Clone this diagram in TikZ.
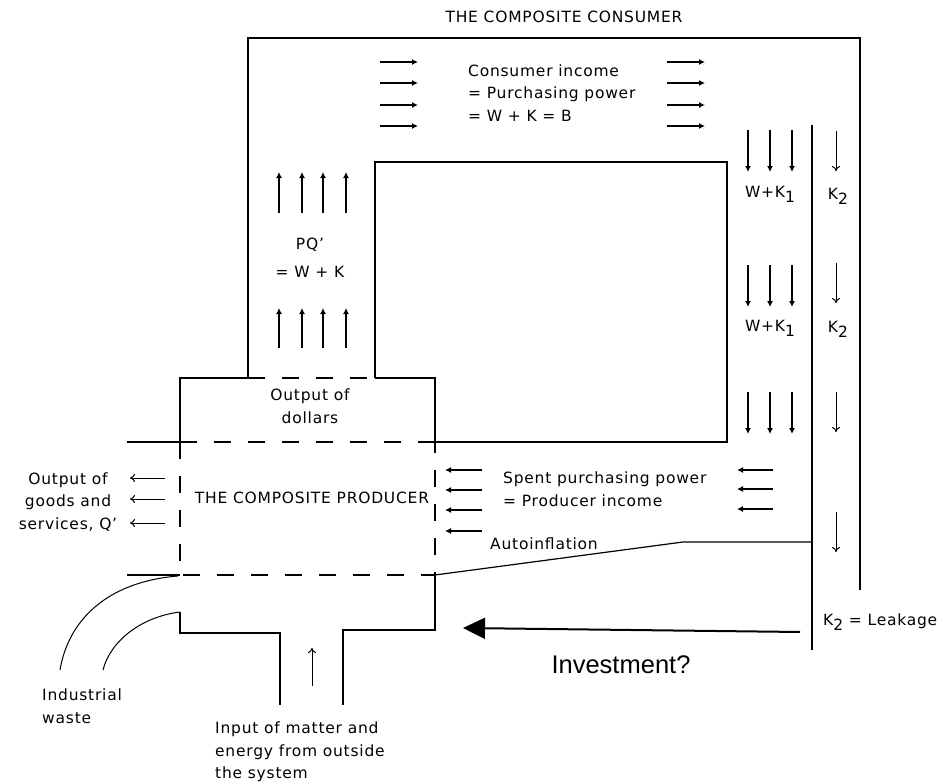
\documentclass[tikz,border=0pt]{standalone}
\usepackage{fontspec}
\setmainfont[LetterSpace=5]{DejaVu Sans}
\newfontfamily\investfont{Liberation Sans}
\usetikzlibrary{arrows.meta}

\newcommand{\lowsub}[1]{\raisebox{-5pt}{#1}}

\begin{document}
\begin{tikzpicture}[x=1pt,y=-1pt,
    wall/.style={line width=1.6pt},
    border/.style={line width=1.6pt,dash pattern=on 17pt off 17pt},
    flow/.style={line width=1.4pt,-{Latex[length=6pt,width=6pt]}},
    thinflow/.style={line width=1pt,-{To[length=5pt,width=8pt]}},
    lbl/.style={font=\fontsize{15.5}{22.5}\selectfont,inner sep=0pt}]
  \useasboundingbox (0,0) rectangle (943,784);

  % the consumer loop
  \draw[wall] (248,378) -- (248,38) -- (860,38) -- (860,590);
  \draw[wall] (812,125) -- (812,650);
  \draw[wall] (375,378) -- (375,162) -- (727,162) -- (727,442) -- (435,442);

  % the producer box
  \draw[wall] (180,442) -- (180,378) -- (248,378);
  \draw[wall] (375,378) -- (435,378) -- (435,442);
  \draw[wall] (127,442) -- (180,442);
  \draw[wall] (127,575) -- (180,575);
  \draw[border] (248,378) -- (375,378);
  \draw[border] (180,442) -- (435,442);
  \draw[border] (180,442) -- (180,575) -- (435,575) -- (435,442);
  \draw[wall] (435,575) -- (435,630) -- (343,630) -- (343,705);
  \draw[wall] (180,612) -- (180,633) -- (280,633) -- (280,705);

  % industrial waste
  \draw[line width=1pt] (178,576) .. controls (105,582) and (68,622) .. (60,670);
  \draw[line width=1pt] (180,612) .. controls (140,617) and (110,642) .. (103,670);

  % autoinflation
  \draw[line width=1.2pt] (435,575) -- (683,542) -- (812,542);

  % flows
  \foreach \y in {62,83,105,126} {
    \draw[flow] (380,\y) -- (418,\y);
    \draw[flow] (667,\y) -- (705,\y);
  }
  \foreach \x in {279,302,323,346} {
    \draw[flow] (\x,213) -- (\x,172);
    \draw[flow] (\x,348) -- (\x,308);
  }
  \foreach \x in {748,770,792}
    \foreach \y in {130,265,392}
      \draw[flow] (\x,\y) -- (\x,\y+42);
  \foreach \y in {131,263,392,512}
    \draw[thinflow] (836,\y) -- (836,\y+40);
  \foreach \y in {470,490,510,531}
    \draw[flow] (482,\y) -- (445,\y);
  \foreach \y in {470,489,509}
    \draw[flow] (773,\y) -- (737,\y);
  \foreach \y in {478,499,523}
    \draw[thinflow] (165,\y) -- (130,\y);
  \draw[thinflow] (312,686) -- (312,648);

  % labels
  \path (564,17)  node[lbl] (consumer) {THE COMPOSITE CONSUMER}
        (468,93)  node[lbl,anchor=west,align=left] (income)
                  {Consumer income\\= Purchasing power\\= W + K = B}
        (310,245) node[lbl] (pq) {PQ'}
        (310,272) node[lbl] (pqsum) {= W + K}
        (310,406) node[lbl,align=center] (dollars) {Output of\\dollars}
        (770,194) node[lbl] (wk1) {W+K\lowsub{1}}
        (770,328) node[lbl] (wk2) {W+K\lowsub{1}}
        (838,196) node[lbl] (ktwoa) {K\lowsub{2}}
        (838,329) node[lbl] (ktwob) {K\lowsub{2}}
        (312,498) node[lbl] (producer) {THE COMPOSITE PRODUCER}
        (68,502)  node[lbl,align=center] (goods) {Output of\\goods and\\services, Q'}
        (503,489) node[lbl,anchor=west,align=left] (spent)
                  {Spent purchasing power\\= Producer income}
        (490,544) node[lbl,anchor=west] (auto) {Autoinflation}
        (823,622) node[lbl,anchor=west] (leak) {K\lowsub{2} = Leakage}
        (42,706)  node[lbl,anchor=west,align=left] (waste) {Industrial\\waste}
        (215,752) node[lbl,anchor=west,align=left] (input)
                  {Input of matter and\\energy from outside\\the system}
        (621,665) node[font=\investfont\fontsize{25.5}{30}\selectfont,inner sep=0pt] (invest) {Investment?};

  % investment
  \coordinate (invtail) at (800,632);
  \coordinate (invtip) at (463,628);
  \draw[line width=2pt,-{Triangle[length=22pt,width=21pt]}] (invtail) -- (invtip);
\end{tikzpicture}
\end{document}
